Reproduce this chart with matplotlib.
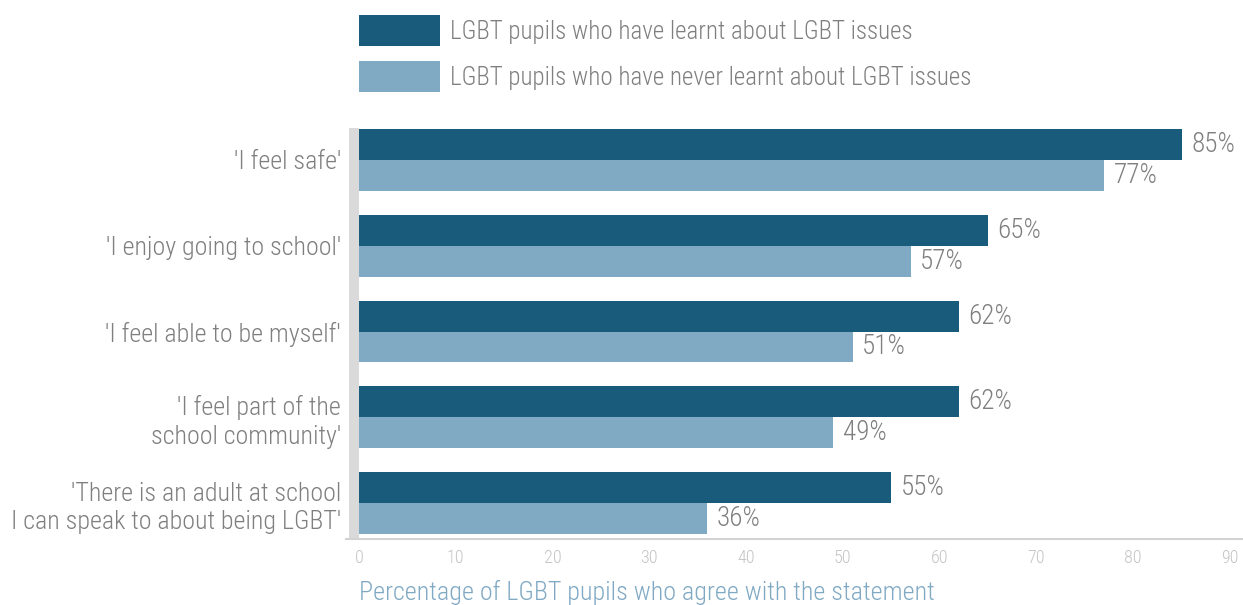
import matplotlib.pyplot as plt
from matplotlib.patches import Rectangle
from matplotlib.lines import Line2D

plt.rcParams['font.family'] = ['Roboto Condensed', 'Archivo Narrow', 'DejaVu Sans']
plt.rcParams['font.weight'] = 'light'

categories = ["'I feel safe'",
              "'I enjoy going to school'",
              "'I feel able to be myself'",
              "'I feel part of the\nschool community'",
              "'There is an adult at school\nI can speak to about being LGBT'"]
learnt = [85, 65, 62, 62, 55]
never_learnt = [77, 57, 51, 49, 36]
series_names = ["LGBT pupils who have learnt about LGBT issues",
                "LGBT pupils who have never learnt about LGBT issues"]
x_ticks = [0, 10, 20, 30, 40, 50, 60, 70, 80, 90]
x_title = "Percentage of LGBT pupils who agree with the statement"

dark = "#185B7B"
light = "#80A9C4"
grey_text = "#7f7f7f"

fig = plt.figure(figsize=(12.43, 6.05), dpi=100)
ax = fig.add_axes([0.2888, 0.1107, 0.7007, 0.6777])

h = 0.36
ys = list(range(len(categories)))
ax.barh([y - h / 2 for y in ys], learnt, height=h, color=dark)
ax.barh([y + h / 2 for y in ys], never_learnt, height=h, color=light)

for y, v in zip(ys, learnt):
    ax.text(v + 1, y - h / 2, "%d%%" % v, va='center', ha='left',
            fontsize=19.5, color=grey_text)
for y, v in zip(ys, never_learnt):
    ax.text(v + 1, y + h / 2, "%d%%" % v, va='center', ha='left',
            fontsize=19.5, color=grey_text)

ax.set_xlim(0, 90)
ax.set_ylim(4.407, -0.372)
ax.set_yticks(ys)
ax.set_yticklabels(categories, fontsize=18.7, color=grey_text, linespacing=1.25)
ax.set_xticks(x_ticks)
ax.set_xticklabels([str(t) for t in x_ticks], fontsize=13, color="#c4c4c4")
ax.tick_params(axis='both', length=0)
ax.tick_params(axis='y', pad=13)
ax.tick_params(axis='x', pad=8)
for s in ['top', 'right', 'left', 'bottom']:
    ax.spines[s].set_visible(False)

# thick grey bar on the left, thin line at the bottom
ax.add_patch(Rectangle((-10 / 871, 0), 10 / 871, 1, transform=ax.transAxes,
                       color="#dadada", clip_on=False, lw=0))
fig.add_artist(Line2D([0.278, 1.0], [1 - 539 / 605, 1 - 539 / 605],
                      color="#d3d3d3", lw=1.5))

ax.text(0, -0.134, x_title, transform=ax.transAxes, fontsize=18.8,
        color=light, ha='left', va='center')

# legend
for i, (name, c) in enumerate(zip(series_names, [dark, light])):
    top = 15 + i * 46
    fig.add_artist(Rectangle((359 / 1243, 1 - (top + 31) / 605), 81 / 1243, 31 / 605,
                             color=c, lw=0))
    fig.text(450 / 1243, 1 - (top + 17) / 605, name, fontsize=18,
             color=grey_text, ha='left', va='center')

fig.savefig("out.png", dpi=100)
